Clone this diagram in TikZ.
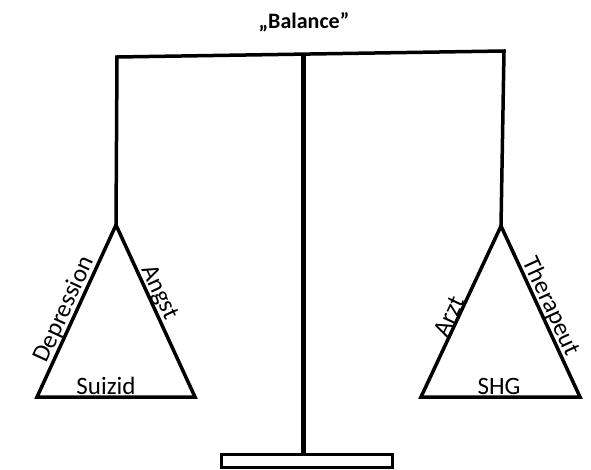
\documentclass[tikz,border=0pt]{standalone}
\usepackage{fontspec}
\setmainfont{Carlito}
\usetikzlibrary{calc}
\begin{document}
\begin{tikzpicture}[x=1pt,y=-1pt,
  bar/.style={line width=3.5pt,line cap=rect},
  pan/.style={line width=3.5pt,line join=miter},
  lbl/.style={font=\fontsize{25}{28}\selectfont,inner sep=0.5pt},
  ttl/.style={font=\bfseries\fontsize{22}{26}\selectfont}]
\useasboundingbox (0,0) rectangle (591,470);
% coordinates
\coordinate (bl) at (117,57);
\coordinate (br) at (504,51);
\coordinate (pt) at (303,55);
\coordinate (pb) at (303,453);
\coordinate (la) at (116,225);
\coordinate (ll) at (37,397);
\coordinate (lr) at (195,397);
\coordinate (ra) at (501,226);
\coordinate (rl) at (421,397);
\coordinate (rr) at (580,397);
% title
\node[ttl] (title) at (304,22) {„Balance\char"22};
% beam and pole
\draw[bar] (bl) -- (br);
\draw[line width=5pt] (pt) -- (pb);
\node[draw,line width=3pt,minimum width=171pt,minimum height=13pt,inner sep=0pt] (base) at (306.5,460.5) {};
% hangers
\draw[line width=3.5pt] (bl) -- (la);
\draw[line width=3.5pt] (br) -- (ra);
% pans
\draw[pan] (la) -- (ll) -- (lr) -- cycle;
\draw[pan] (ra) -- (rl) -- (rr) -- cycle;
% labels
\node[lbl,rotate=65.3,anchor=south] (dep) at ($(ll)!0.48!(la)$) {Depression};
\node[lbl,rotate=-65.3,anchor=south] (ang) at ($(la)!0.42!(lr)$) {Angst};
\node[lbl,anchor=south] (sui) at (106,395) {Suizid};
\node[lbl,rotate=65.3,anchor=south] (arz) at ($(rl)!0.45!(ra)$) {Arzt};
\node[lbl,rotate=-65.3,anchor=south] (the) at ($(ra)!0.5!(rr)$) {Therapeut};
\node[lbl,anchor=south] (shg) at (499,395) {SHG};
\end{tikzpicture}
\end{document}
